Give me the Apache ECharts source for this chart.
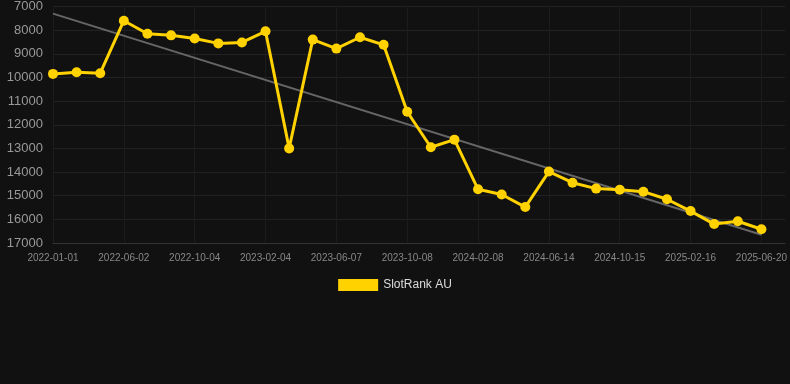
<!DOCTYPE html>
<html>
<head>
<meta charset="utf-8">
<script src="https://cdn.jsdelivr.net/npm/echarts@6/dist/echarts.min.js"></script>
<style>
  html, body { margin: 0; padding: 0; background: #111111; }
  #chart { width: 790px; height: 384px; }
</style>
</head>
<body>
<div id="chart"></div>
<script>
var dates = [
    '2022-01-01', '2022-02-21', '2022-04-13', '2022-06-02', '2022-07-13', '2022-08-23',
    '2022-10-04', '2022-11-14', '2022-12-25', '2023-02-04', '2023-03-17', '2023-04-27',
    '2023-06-07', '2023-07-18', '2023-08-28', '2023-10-08', '2023-11-18', '2023-12-29',
    '2024-02-08', '2024-03-20', '2024-05-03', '2024-06-14', '2024-07-25', '2024-09-04',
    '2024-10-15', '2024-11-25', '2025-01-05', '2025-02-16', '2025-03-29', '2025-05-09',
    '2025-06-20'
];
var rankAU = [
    9850, 9780, 9820, 7600, 8150, 8220,
    8350, 8560, 8520, 8050, 13000, 8400,
    8780, 8300, 8620, 11450, 12950, 12630,
    14730, 14950, 15480, 13980, 14450, 14700,
    14750, 14830, 15150, 15650, 16200, 16080,
    16420
];
// trend line end points [category index, rank]
var trend = [[0, 7300], [30, 16650]];
var yTicks = { min: 7000, max: 17000, step: 1000 };

var chart = echarts.init(document.getElementById('chart'));
chart.setOption({
    backgroundColor: '#111111',
    animation: false,
    grid: { left: 53, right: 0, top: 6, bottom: 141 },
    legend: {
        bottom: 88,
        left: 'center',
        itemWidth: 40,
        itemHeight: 12,
        data: [{ name: 'SlotRank AU', icon: 'rect' }],
        textStyle: { color: '#dddddd', fontSize: 12, fontFamily: 'Liberation Sans, Arial, sans-serif' }
    },
    xAxis: {
        type: 'category',
        data: dates,
        boundaryGap: false,
        max: 31,
        axisLine: { lineStyle: { color: '#333333' } },
        axisTick: { show: false },
        axisLabel: {
            interval: 2,
            color: '#888888',
            fontSize: 10,
            margin: 10,
            fontFamily: 'Liberation Sans, Arial, sans-serif',
            formatter: function (v) { return v || ''; }
        },
        splitLine: { show: true, interval: 2, lineStyle: { color: '#1c1c1c' } }
    },
    yAxis: {
        type: 'value',
        inverse: true,
        min: yTicks.min,
        max: yTicks.max,
        interval: yTicks.step,
        axisLine: { show: false },
        axisTick: { show: false },
        axisLabel: {
            color: '#999999',
            fontSize: 13,
            margin: 10,
            fontFamily: 'Liberation Sans, Arial, sans-serif',
            formatter: function (v) { return String(v); }
        },
        splitLine: { lineStyle: { color: '#222222' } }
    },
    series: [
        {
            name: 'trend',
            type: 'line',
            data: trend,
            symbol: 'none',
            lineStyle: { color: '#666666', width: 2 },
            z: 1,
            silent: true
        },
        {
            name: 'SlotRank AU',
            type: 'line',
            data: rankAU,
            symbol: 'circle',
            symbolSize: 10,
            itemStyle: { color: '#FFD200' },
            lineStyle: { color: '#FFD200', width: 3 },
            z: 2
        }
    ]
});
</script>
</body>
</html>
